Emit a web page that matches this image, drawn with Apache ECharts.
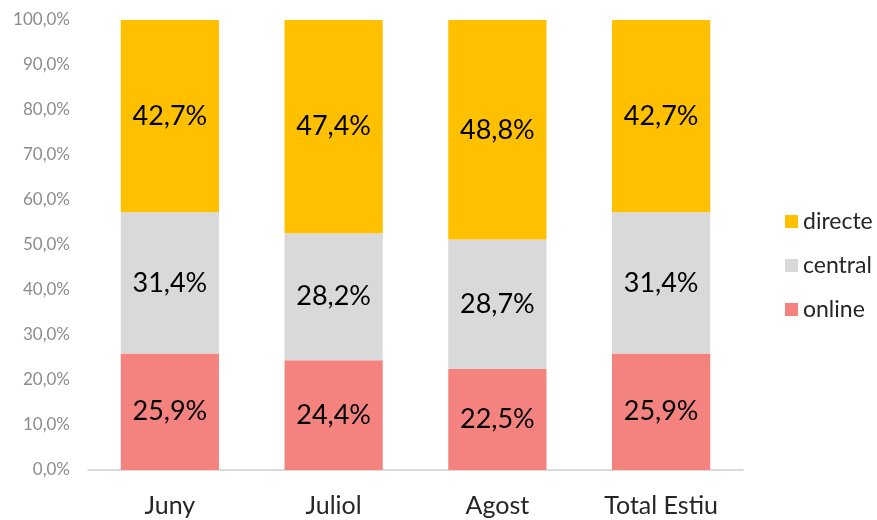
<!DOCTYPE html>
<html>
<head>
<meta charset="utf-8">
<script src="https://cdn.jsdelivr.net/npm/echarts@6/dist/echarts.min.js"></script>
<style>html,body{margin:0;padding:0;background:#fff}#c{width:877px;height:520px}</style>
</head>
<body>
<div id="c"></div>
<script>
var categories = ['Juny', 'Juliol', 'Agost', 'Total Estiu'];
var online = [25.9, 24.4, 22.5, 25.9];
var central = [31.4, 28.2, 28.7, 31.4];
var directe = [42.7, 47.4, 48.8, 42.7];
var yTicks = [0, 10, 20, 30, 40, 50, 60, 70, 80, 90, 100];

var FONT = 'Lato, "Open Sans", sans-serif';
function fmt(v){ return v.toFixed(1).replace('.', ',') + '%'; }
var lbl = {show:true, position:'inside', color:'#000', fontSize:27, fontFamily:FONT, formatter:function(p){return fmt(p.value);}};

var chart = echarts.init(document.getElementById('c'));
chart.setOption({
  animation:false,
  textStyle:{fontFamily:FONT},
  grid:{left:88, right:134, top:20, bottom:50},
  legend:{
    orient:'vertical', left:780, top:205, itemGap:21, itemWidth:13, itemHeight:13,
    icon:'rect',
    data:['directe','central','online'],
    textStyle:{fontSize:23, color:'#262626', fontFamily:FONT}
  },
  xAxis:{
    type:'category', data:categories,
    axisLine:{lineStyle:{color:'#d0d0d0', width:1.5}},
    axisTick:{show:false},
    axisLabel:{fontSize:25, color:'#262626', margin:23, fontFamily:FONT}
  },
  yAxis:{
    type:'value', min:yTicks[0], max:yTicks[yTicks.length-1], interval:10,
    splitLine:{show:false},
    axisLine:{show:false}, axisTick:{show:false},
    axisLabel:{fontSize:17, color:'#8c8c8c', margin:18, fontFamily:FONT, formatter:function(v){return fmt(v);}}
  },
  series:[
    {name:'online', type:'bar', stack:'s', data:online, barWidth:'60%', itemStyle:{color:'#F4837F'}, label:lbl},
    {name:'central', type:'bar', stack:'s', data:central, barWidth:'60%', itemStyle:{color:'#D9D9D9'}, label:lbl},
    {name:'directe', type:'bar', stack:'s', data:directe, barWidth:'60%', itemStyle:{color:'#FFC000'}, label:lbl}
  ]
});
</script>
</body>
</html>
